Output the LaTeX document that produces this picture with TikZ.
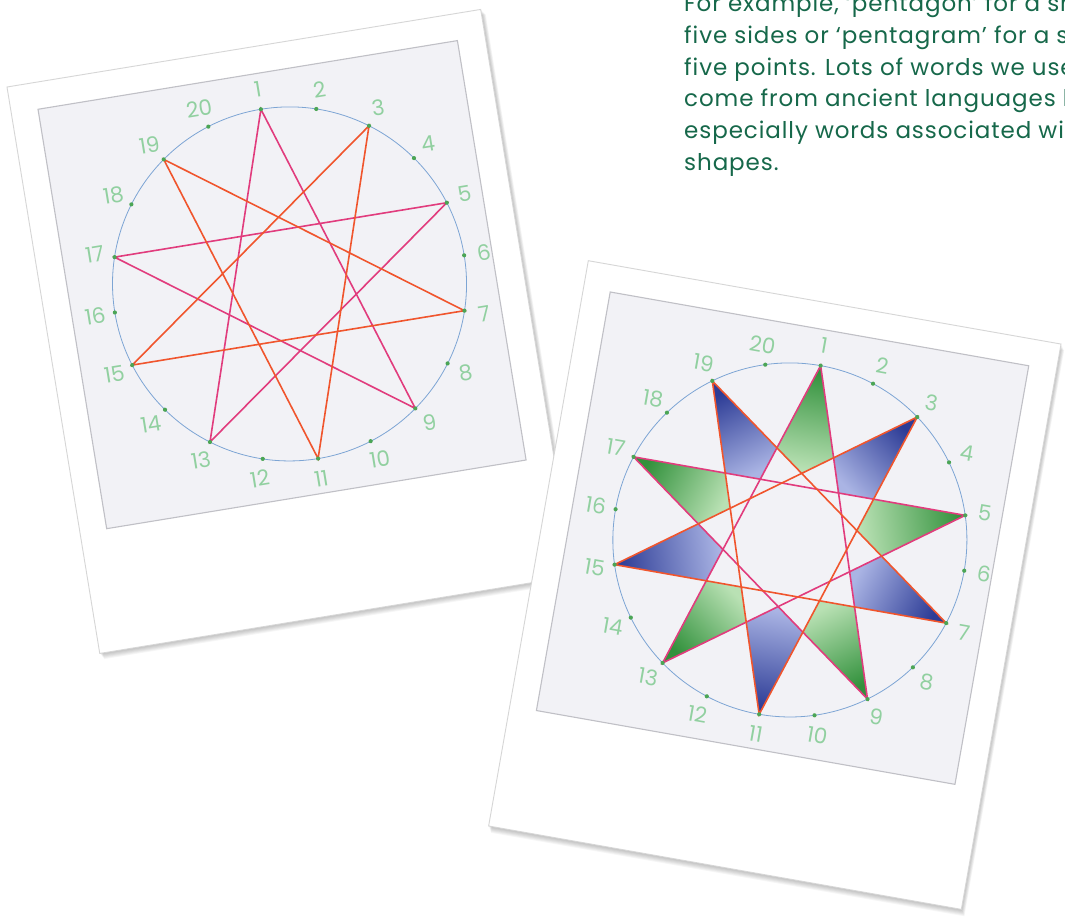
\documentclass[tikz,border=0pt]{standalone}
\usepackage{fontspec}
\setmainfont{Poppins}
\newfontfamily\parafont[LetterSpace=4]{Poppins}
\usetikzlibrary{calc}

\definecolor{txtgreen}{RGB}{22,104,74}
\definecolor{numgreen}{RGB}{145,208,160}
\definecolor{dotgreen}{RGB}{75,165,85}
\definecolor{ringblue}{RGB}{125,165,212}
\definecolor{linepink}{RGB}{225,60,125}
\definecolor{lineorange}{RGB}{240,85,45}
\definecolor{photogray}{RGB}{242,242,246}
\definecolor{photoedge}{RGB}{192,192,198}
\definecolor{frameedge}{RGB}{214,214,214}
\definecolor{gdark}{RGB}{50,145,60}
\definecolor{glight}{RGB}{185,225,180}
\definecolor{bdark}{RGB}{45,60,150}
\definecolor{blight}{RGB}{170,180,228}

\tikzset{
  frame/.style={fill=white, draw=frameedge, line width=0.9pt},
  photo/.style={fill=photogray, draw=photoedge, line width=1.1pt},
  ring/.style={draw=ringblue, line width=0.8pt},
  num/.style={text=numgreen, font=\fontsize{21.5}{21.5}\selectfont, transform shape, inner sep=0pt},
  pinkline/.style={draw=linepink, line width=1.6pt, line cap=round},
  orangeline/.style={draw=lineorange, line width=1.6pt, line cap=round},
  para/.style={anchor=base west, text=txtgreen, font=\parafont\fontsize{23}{31.7}\selectfont, inner sep=0pt},
}

% one instant photo: frame, picture area, ring of 20 numbered points
\newcommand\snapshot[1]{%
  \foreach \s in {1,...,7}
    \fill[black, opacity=0.035] ({0.5*\s},{0.8*\s}) rectangle ({480+0.6*\s},{574+0.9*\s});
  \path[frame] (0,0) rectangle (480,574);
  \path[photo] (27,27) rectangle (452,452);
  \draw[ring] (247,240) circle[radius=177pt];
  \foreach \k in {1,...,20}{
    \coordinate (#1p\k) at ({247+177*sin((\k-1)*18)},{240-177*cos((\k-1)*18)});
    \node[num] (#1n\k) at ({247+197*sin((\k-1)*18)},{240-197*cos((\k-1)*18)}) {\k};
  }
}

% the two interlaced pentagrams and the point markers
\newcommand\starlines[1]{%
  \draw[pinkline] (#1p1) -- (#1p9) -- (#1p17) -- (#1p5) -- (#1p13) -- cycle;
  \draw[orangeline] (#1p3) -- (#1p11) -- (#1p19) -- (#1p7) -- (#1p15) -- cycle;
  \foreach \k in {1,...,20} \fill[dotgreen] (#1p\k) circle[radius=2.1pt];
}

% shaded star tips: green on the pink star, blue on the orange star
\newcommand\kites[2]{%
  \foreach \k in {1,3,...,19}{
    \pgfmathtruncatemacro\ka{mod(\k+11,20)+1}
    \pgfmathtruncatemacro\kb{mod(\k+7,20)+1}
    \pgfmathtruncatemacro\kc{mod(\k+17,20)+1}
    \pgfmathtruncatemacro\kd{mod(\k+5,20)+1}
    \pgfmathtruncatemacro\ke{mod(\k+1,20)+1}
    \pgfmathtruncatemacro\kf{mod(\k+13,20)+1}
    \pgfmathtruncatemacro\kg{mod((\k-1)/2,2)}
    \pgfmathsetmacro\ang{-(\k-1)*18+#2}
    \ifnum\kg=0 \def\cdark{gdark}\def\clight{glight}\else\def\cdark{bdark}\def\clight{blight}\fi
    \coordinate (#1a\k) at (intersection cs: first line={(#1p\k)--(#1p\ka)}, second line={(#1p\kc)--(#1p\kd)});
    \coordinate (#1b\k) at (intersection cs: first line={(#1p\kc)--(#1p\kd)}, second line={(#1p\ke)--(#1p\kf)});
    \coordinate (#1c\k) at (intersection cs: first line={(#1p\ke)--(#1p\kf)}, second line={(#1p\k)--(#1p\kb)});
    \shade[top color=\cdark, bottom color=\clight, shading angle=\ang]
      (#1p\k) -- (#1a\k) -- (#1b\k) -- (#1c\k) -- cycle;
  }
}

\begin{document}
\begin{tikzpicture}[x=1pt,y=-1pt]
\useasboundingbox (0,0) rectangle (1065,923);
\clip (0,0) rectangle (1065,923);
\fill[white] (0,0) rectangle (1065,923);

\node[para] (t1) at (684,11.7) {For example, ‘pentagon’ for a shape};
\node[para] (t2) at (684,43.4) {five sides or ‘pentagram’ for a star};
\node[para] (t3) at (684,75.1) {five points. Lots of words we use};
\node[para] (t4) at (684,106.8) {come from ancient languages like};
\node[para] (t5) at (684,138.5) {especially words associated with};
\node[para] (t6) at (684,170.2) {shapes.};

\begin{scope}[shift={(7,87)}, rotate=9.3]
  \snapshot{L}
  \starlines{L}
\end{scope}

\begin{scope}[shift={(588.3,260.7)}, rotate=-10]
  \snapshot{R}
  \kites{R}{-10}
  \starlines{R}
\end{scope}
\end{tikzpicture}
\end{document}
